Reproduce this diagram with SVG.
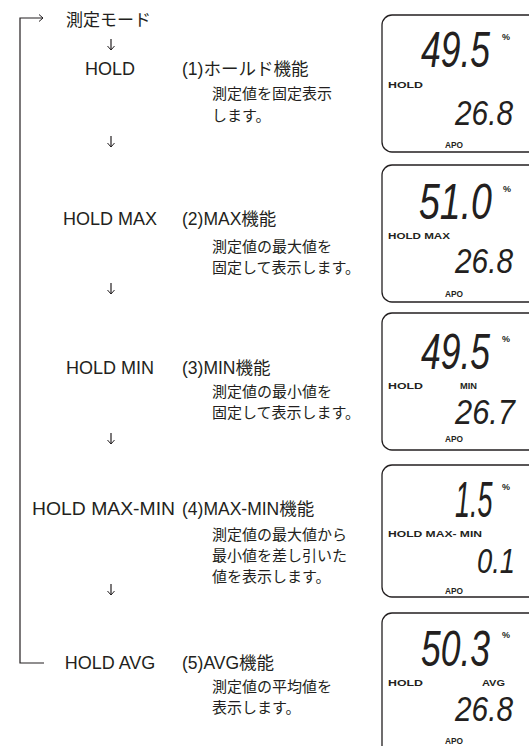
<svg xmlns="http://www.w3.org/2000/svg" width="529" height="746" viewBox="0 0 529 746">
<style>
.bg{fill:#fff}
.ln{fill:none;stroke:#231f20;stroke-width:1.2}
.lab{font-family:"Liberation Sans","Noto Sans CJK JP",sans-serif;font-size:18px;fill:#231f20}
.hd{font-family:"Liberation Sans","Noto Sans CJK JP",sans-serif;font-size:17.5px;fill:#231f20}
.sub{font-family:"Noto Sans CJK JP",sans-serif;font-size:15px;fill:#231f20}
.mode{font-family:"Noto Sans CJK JP",sans-serif;font-size:17px;fill:#231f20}
.lcd{fill:#fff;stroke:#231f20;stroke-width:1.3}
.big{font-family:"Liberation Sans",sans-serif;font-style:italic;font-size:50px;fill:#231f20}
.mid{font-family:"Liberation Sans",sans-serif;font-style:italic;font-size:35px;fill:#231f20}
.sm{font-family:"Liberation Sans",sans-serif;font-weight:bold;font-size:9.5px;fill:#231f20}
.pc{font-family:"Liberation Sans",sans-serif;font-weight:bold;font-size:9px;fill:#231f20}
</style>
<defs>
<marker id="ah" viewBox="-1 -4 6 8" refX="4" refY="0" markerWidth="6" markerHeight="8" markerUnits="userSpaceOnUse" orient="auto">
<path d="M0,-3.5 L4,0 L0,3.5" fill="none" stroke="#231f20" stroke-width="1"/>
</marker>
</defs>
<rect class="bg" x="0" y="0" width="529" height="746"/>

<g id="connectors">
<path class="ln" d="M44,663 H20 V18 H43" marker-end="url(#ah)"/>
<line class="ln" x1="111" y1="39" x2="111" y2="50" marker-end="url(#ah)"/>
<line class="ln" x1="111" y1="136" x2="111" y2="147" marker-end="url(#ah)"/>
<line class="ln" x1="111" y1="283" x2="111" y2="294" marker-end="url(#ah)"/>
<line class="ln" x1="111" y1="433" x2="111" y2="444" marker-end="url(#ah)"/>
<line class="ln" x1="111" y1="584" x2="111" y2="595" marker-end="url(#ah)"/>
</g>

<g id="mode">
<text class="mode" x="66" y="26">測定モード</text>
</g>

<g id="hold">
<text class="lab" x="110" y="75" text-anchor="middle">HOLD</text>
<text class="hd" x="182" y="75">(1)ホールド機能</text>
<text class="sub" x="212" y="99">測定値を固定表示</text>
<text class="sub" x="212" y="121">します。</text>
</g>

<g id="holdmax">
<text class="lab" x="110" y="225" text-anchor="middle">HOLD MAX</text>
<text class="hd" x="182" y="225">(2)MAX機能</text>
<text class="sub" x="212" y="252">測定値の最大値を</text>
<text class="sub" x="212" y="273">固定して表示します。</text>
</g>

<g id="holdmin">
<text class="lab" x="110" y="374" text-anchor="middle">HOLD MIN</text>
<text class="hd" x="182" y="374">(3)MIN機能</text>
<text class="sub" x="212" y="397">測定値の最小値を</text>
<text class="sub" x="212" y="418">固定して表示します。</text>
</g>

<g id="holdmaxmin">
<text class="lab" x="32" y="515" textLength="143" lengthAdjust="spacingAndGlyphs">HOLD MAX-MIN</text>
<text class="hd" x="182" y="515">(4)MAX-MIN機能</text>
<text class="sub" x="212" y="540">測定値の最大値から</text>
<text class="sub" x="212" y="561">最小値を差し引いた</text>
<text class="sub" x="212" y="582">値を表示します。</text>
</g>

<g id="holdavg">
<text class="lab" x="110" y="669" text-anchor="middle">HOLD AVG</text>
<text class="hd" x="182" y="669">(5)AVG機能</text>
<text class="sub" x="212" y="692">測定値の平均値を</text>
<text class="sub" x="212" y="713">表示します。</text>
</g>

<g id="lcd1">
<rect class="lcd" x="382" y="15" width="170" height="137" rx="10"/>
<text class="big" transform="translate(421,67) scale(0.71,1)">49.5</text>
<text class="pc" x="502" y="40">%</text>
<text class="sm" x="388" y="88" textLength="35" lengthAdjust="spacingAndGlyphs">HOLD</text>
<text class="mid" x="455" y="125" textLength="58" lengthAdjust="spacingAndGlyphs">26.8</text>
<text class="sm" x="445" y="148" textLength="18" lengthAdjust="spacingAndGlyphs">APO</text>
</g>

<g id="lcd2">
<rect class="lcd" x="382" y="165" width="170" height="137" rx="10"/>
<text class="big" transform="translate(419,219) scale(0.75,1)">51.0</text>
<text class="pc" x="503" y="192">%</text>
<text class="sm" x="388" y="239" textLength="62" lengthAdjust="spacingAndGlyphs">HOLD MAX</text>
<text class="mid" x="455" y="273" textLength="58" lengthAdjust="spacingAndGlyphs">26.8</text>
<text class="sm" x="445" y="297" textLength="18" lengthAdjust="spacingAndGlyphs">APO</text>
</g>

<g id="lcd3">
<rect class="lcd" x="382" y="313" width="170" height="137" rx="10"/>
<text class="big" transform="translate(421,369) scale(0.71,1)">49.5</text>
<text class="pc" x="502" y="342">%</text>
<text class="sm" x="388" y="389" textLength="35" lengthAdjust="spacingAndGlyphs">HOLD</text>
<text class="sm" x="460" y="389" textLength="17" lengthAdjust="spacingAndGlyphs">MIN</text>
<text class="mid" x="455" y="424" textLength="60" lengthAdjust="spacingAndGlyphs">26.7</text>
<text class="sm" x="445" y="442" textLength="18" lengthAdjust="spacingAndGlyphs">APO</text>
</g>

<g id="lcd4">
<rect class="lcd" x="382" y="465" width="170" height="132" rx="10"/>
<text class="big" transform="translate(455,517) scale(0.54,1)">1.5</text>
<text class="pc" x="502" y="490">%</text>
<text class="sm" x="388" y="537" textLength="94" lengthAdjust="spacingAndGlyphs">HOLD MAX- MIN</text>
<text class="mid" x="477" y="573" textLength="38" lengthAdjust="spacingAndGlyphs">0.1</text>
<text class="sm" x="445" y="594" textLength="18" lengthAdjust="spacingAndGlyphs">APO</text>
</g>

<g id="lcd5">
<rect class="lcd" x="382" y="613" width="170" height="150" rx="10"/>
<text class="big" transform="translate(421,666) scale(0.71,1)">50.3</text>
<text class="pc" x="502" y="638">%</text>
<text class="sm" x="388" y="686" textLength="35" lengthAdjust="spacingAndGlyphs">HOLD</text>
<text class="sm" x="482" y="686" textLength="23" lengthAdjust="spacingAndGlyphs">AVG</text>
<text class="mid" x="455" y="721" textLength="58" lengthAdjust="spacingAndGlyphs">26.8</text>
<text class="sm" x="445" y="744" textLength="18" lengthAdjust="spacingAndGlyphs">APO</text>
</g>
</svg>
